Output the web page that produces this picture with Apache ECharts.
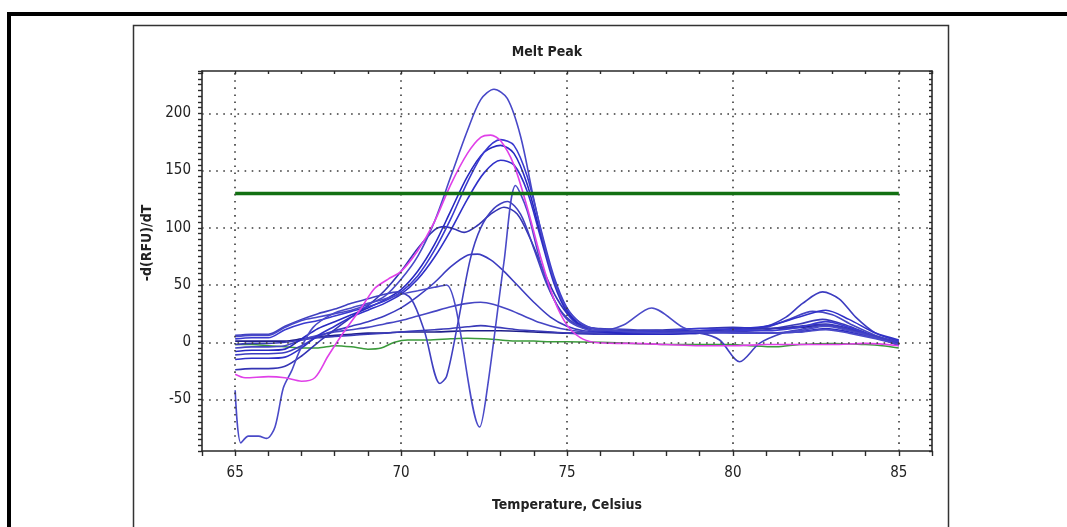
<!DOCTYPE html>
<html>
<head>
<meta charset="utf-8">
<title>Melt Peak</title>
<script src="https://cdn.jsdelivr.net/npm/echarts@6/dist/echarts.min.js"></script>
<style>
  html, body { margin: 0; padding: 0; background: #fff; }
  #chart { width: 1067px; height: 527px; }
</style>
</head>
<body>
<div id="chart"></div>
<script>
// [temperature, -d(RFU)/dT] pairs
const curveA = [[65,5],[65.5,6],[66,6],[66.5,13],[67,19],[67.5,22],[68,25],[68.5,28],[69,33],[69.5,40],[70,55],[70.5,75],[71,105],[71.5,145],[72,185],[72.4,212],[72.8,221],[73.2,213],[73.6,180],[74,125],[74.4,75],[74.8,40],[75.2,22],[75.6,14],[76,11],[76.5,10],[77,9],[78,8],[79,9],[80,9],[81,8],[82,10],[82.8,14],[83.5,10],[84.3,4],[85,-2]];
const curveB = [[65,3],[65.5,4],[66,4],[66.5,11],[67,16],[67.5,19],[68,23],[68.5,27],[69,31],[69.5,36],[70,44],[70.5,58],[71,80],[71.5,108],[72,140],[72.5,166],[73,177],[73.4,172],[73.8,145],[74.2,100],[74.6,58],[75,30],[75.4,17],[75.8,12],[76.5,10],[77,9],[78,10],[79,12],[80,11],[81,10],[82,13],[82.8,18],[83.5,13],[84.3,5],[85,0]];
const curveB2 = [[65,-8],[65.5,-7],[66,-7],[66.5,-6],[67,3],[67.5,12],[68,18],[68.5,24],[69,30],[69.5,37],[70,46],[70.5,62],[71,85],[71.5,115],[72,145],[72.5,166],[73,172],[73.4,165],[73.8,138],[74.2,95],[74.6,55],[75,28],[75.4,15],[75.8,10],[76.5,8],[77,7],[78,7],[79,8],[80,9],[81,8],[82,9],[82.8,12],[83.5,9],[84.3,4],[85,-1]];
const curveC = [[65,-15],[65.5,-14],[66,-14],[66.5,-13],[67,-5],[67.5,6],[68,14],[68.5,22],[69,28],[69.5,34],[70,42],[70.5,55],[71,74],[71.5,98],[72,125],[72.5,148],[73,159],[73.4,155],[73.8,132],[74.2,92],[74.6,52],[75,26],[75.4,14],[75.8,10],[76.5,9],[77,9],[78,10],[79,10],[80,12],[81,14],[82,22],[82.8,28],[83.5,20],[84.3,8],[85,2]];
const curveE = [[65,-24],[65.5,-23],[66,-23],[66.5,-21],[67,-12],[67.5,0],[68,11],[68.5,22],[69,32],[69.5,45],[70,62],[70.5,82],[71,98],[71.3,101],[71.6,99],[71.9,96],[72.3,102],[72.7,112],[73.1,118],[73.5,112],[73.9,90],[74.3,62],[74.7,38],[75.1,22],[75.5,14],[76,11],[76.5,10],[77,10],[78,11],[79,12],[80,13],[81,12],[82,14],[82.8,16],[83.5,12],[84.3,5],[85,-1]];
const curveV1 = [[65,6],[65.5,7],[66,7],[66.5,14],[67,20],[67.5,25],[68,29],[68.5,34],[69,38],[69.5,42],[69.9,44],[70.3,38],[70.7,10],[71.17,-36],[71.37,-30],[71.7,15],[72.08,72],[72.4,100],[72.8,117],[73.2,123],[73.6,112],[74,82],[74.4,50],[74.8,28],[75.2,17],[75.6,13],[76,12],[77,11],[78,10],[79,8],[79.6,2],[80.2,-17],[80.8,-1],[81.5,8],[82,11],[82.8,15],[83.5,11],[84.3,5],[85,0]];
const curveV2 = [[65,-42],[65.17,-88],[65.4,-82],[65.7,-82],[65.95,-84],[66.2,-74],[66.45,-40],[66.7,-25],[66.95,-7],[67.35,13],[67.95,25],[68.5,30],[69,34],[69.4,37],[70,42],[70.5,45],[71,48],[71.37,50],[72.37,-74],[72.6,-40],[73.1,70],[73.45,137],[73.8,115],[74.2,70],[74.6,38],[75,20],[75.5,12],[76,10],[76.7,15],[77.55,30],[78.5,13],[79,9],[80,8],[81,8],[82,9],[82.8,11],[83.5,8],[84.3,3],[85,-2]];
const curveF = [[65,-11],[65.5,-10],[66,-10],[66.5,-9],[67,-3],[67.5,5],[68,10],[68.5,14],[69,18],[69.5,23],[70,30],[70.5,40],[71,52],[71.5,66],[72,76],[72.3,77],[72.7,72],[73.1,62],[73.5,50],[74,35],[74.5,22],[75,14],[75.5,10],[76,9],[77,8],[78,8],[79,9],[80,10],[81,14],[81.6,22],[82.1,34],[82.7,44],[83.2,38],[83.7,22],[84.3,8],[85,1]];
const curveG = [[65,-5],[65.5,-4],[66,-4],[66.5,-3],[67,2],[67.5,6],[68,9],[68.5,11],[69,13],[69.5,16],[70,19],[70.5,23],[71,27],[71.5,31],[72,34],[72.4,35],[72.8,33],[73.2,29],[73.7,23],[74.2,17],[74.8,12],[75.5,9],[76,8],[77,8],[78,8],[79,9],[80,10],[81,13],[81.7,20],[82.4,27],[83,24],[83.6,15],[84.3,6],[85,0]];
const curveH = [[65,-2],[65.5,-1],[66,-1],[66.5,0],[67,2],[67.5,4],[68,5],[68.5,6],[69,7],[69.5,8],[70,9],[70.5,10],[71,11],[71.5,12],[72,13.5],[72.4,14.5],[72.9,13],[73.5,11],[74,10],[75,8],[76,7],[77,7],[78,7],[79,8],[80,9],[81,11],[82,16],[82.7,20],[83.4,15],[84.2,6],[85,-1]];
const curveI = [[65,1],[65.5,1],[66,1],[66.5,1],[67,3],[67.5,5],[68,6],[68.5,7],[69,8],[69.5,8],[70,9],[71,9],[72,10],[72.5,10],[73,10],[74,9],[75,8],[76,8],[77,8],[78,9],[79,10],[80,11],[81,12],[82,13],[82.8,15],[83.5,11],[84.3,5],[85,-3]];
const curveMagenta = [[65,-28],[65.3,-31],[66,-30],[66.5,-31],[67,-34],[67.4,-31],[67.8,-12],[68.3,10],[68.8,30],[69.2,47],[69.6,55],[70,62],[70.5,80],[71,105],[71.5,138],[72,165],[72.4,179],[72.7,181],[73,176],[73.4,155],[73.8,118],[74.2,75],[74.6,38],[75,15],[75.4,4],[75.8,0],[76.5,-1],[77,-1],[78,-2],[79,-3],[80,-3],[81,-2],[82,-2],[83,-2],[84,-1],[85,-3]];
const curveGreen = [[65,-2],[65.5,-2],[66,-3],[66.5,-4],[67,-5],[67.5,-5],[68,-3],[68.5,-4],[69,-6],[69.4,-5],[69.8,0],[70.2,2],[70.8,2],[71.5,3],[72,3.5],[72.5,3],[73,2],[73.5,1],[74,1],[74.5,0.5],[75,0.5],[76,0],[77,-1],[78,-2],[79,-2],[80,-2],[80.5,-3],[81.3,-4],[82,-2],[83,-1],[84,-2],[84.5,-3],[85,-5]];

const thresholdLine = [[65,130],[85,130]];
const xMajorTicks = [65, 70, 75, 80, 85];
const yMajorTicks = [-50, 0, 50, 100, 150, 200];

const blueCurves = [curveI, curveH, curveG, curveF, curveE, curveC, curveB2, curveB, curveV2, curveV1, curveA];
const blueColors = ['#1e1e8a', '#3a3ab8', '#4646c4', '#3c3cc0', '#3434b4', '#3030c8', '#2828c0', '#3a3ad0', '#4a4ac8', '#4040c0', '#4848c8'];

const FONT = '"Liberation Sans Narrow", "Arial Narrow", "DejaVu Sans Condensed", sans-serif';

const chart = echarts.init(document.getElementById('chart'));

const series = [{
  name: 'grid',
  type: 'line',
  data: [],
  silent: true,
  z: 1,
  markLine: {
    silent: true,
    symbol: 'none',
    animation: false,
    label: { show: false },
    lineStyle: { color: '#3a3a3a', width: 1.6, type: [1.6, 5.5] },
    data: xMajorTicks.map(v => ({ xAxis: v })).concat(yMajorTicks.map(v => ({ yAxis: v })))
  }
}];

blueCurves.forEach((c, i) => {
  series.push({
    type: 'line',
    data: c,
    smooth: 0.3,
    showSymbol: false,
    z: 3,
    lineStyle: { color: blueColors[i], width: 1.6 }
  });
});

series.push({
  type: 'line',
  data: curveMagenta,
  smooth: 0.3,
  showSymbol: false,
  z: 4,
  lineStyle: { color: '#e040e8', width: 1.6 }
});
series.push({
  type: 'line',
  data: curveGreen,
  smooth: 0.3,
  showSymbol: false,
  z: 2,
  lineStyle: { color: '#3a9a3a', width: 1.5 }
});
series.push({
  type: 'line',
  data: thresholdLine,
  showSymbol: false,
  z: 5,
  lineStyle: { color: '#127012', width: 3.5 }
});

const axisLine = { show: true, onZero: false, lineStyle: { color: '#2a2a2a', width: 1.6 } };

chart.setOption({
  animation: false,
  backgroundColor: '#fff',
  title: {
    text: 'Melt Peak',
    left: 542,
    top: 40,
    textAlign: 'center',
    textStyle: { fontFamily: FONT, fontWeight: 'bold', fontSize: 14, color: '#222' }
  },
  graphic: [
    { type: 'rect', shape: { x: 9, y: 14, width: 1100, height: 600 }, style: { fill: 'none', stroke: '#000', lineWidth: 4 }, silent: true },
    { type: 'rect', shape: { x: 133.5, y: 25.5, width: 815, height: 520 }, style: { fill: 'none', stroke: '#333', lineWidth: 1.5 }, silent: true }
  ],
  grid: { left: 202, right: 135, top: 71, bottom: 76 },
  xAxis: [{
    type: 'value',
    min: 64, max: 86, interval: 1,
    position: 'bottom',
    axisLine: axisLine,
    axisTick: { show: true, length: 5, lineStyle: { color: '#2a2a2a', width: 1.4 } },
    splitLine: { show: false },
    axisLabel: {
      margin: 15,
      fontFamily: FONT, fontSize: 15, color: '#222',
      formatter: v => (v % 5 === 0 && v > 64 && v < 86 ? String(v) : '')
    },
    name: 'Temperature, Celsius',
    nameLocation: 'middle',
    nameGap: 47,
    nameTextStyle: { fontFamily: FONT, fontWeight: 'bold', fontSize: 14, color: '#222' }
  }, {
    type: 'value',
    min: 64, max: 86, interval: 1,
    position: 'top',
    axisLine: axisLine,
    axisTick: { show: true, inside: true, length: 3, lineStyle: { color: '#2a2a2a', width: 1.4 } },
    splitLine: { show: false },
    axisLabel: { show: false }
  }],
  yAxis: [{
    type: 'value',
    min: -95, max: 237, interval: 5,
    position: 'left',
    axisLine: axisLine,
    axisTick: { show: true, length: 4, lineStyle: { color: '#2a2a2a', width: 1.4 } },
    splitLine: { show: false },
    axisLabel: {
      margin: 11,
      fontFamily: FONT, fontSize: 15, color: '#222',
      formatter: v => (v % 50 === 0 ? String(v) : '')
    },
    name: '-d(RFU)/dT',
    nameLocation: 'middle',
    nameRotate: 90,
    nameGap: 44,
    nameTextStyle: { fontFamily: FONT, fontWeight: 'bold', fontSize: 14, color: '#222', padding: [0, 0, 0, 36] }
  }, {
    type: 'value',
    min: -95, max: 237, interval: 5,
    position: 'right',
    axisLine: axisLine,
    axisTick: { show: true, inside: true, length: 3, lineStyle: { color: '#2a2a2a', width: 1.4 } },
    splitLine: { show: false },
    axisLabel: { show: false }
  }],
  series: series
});
</script>
</body>
</html>
